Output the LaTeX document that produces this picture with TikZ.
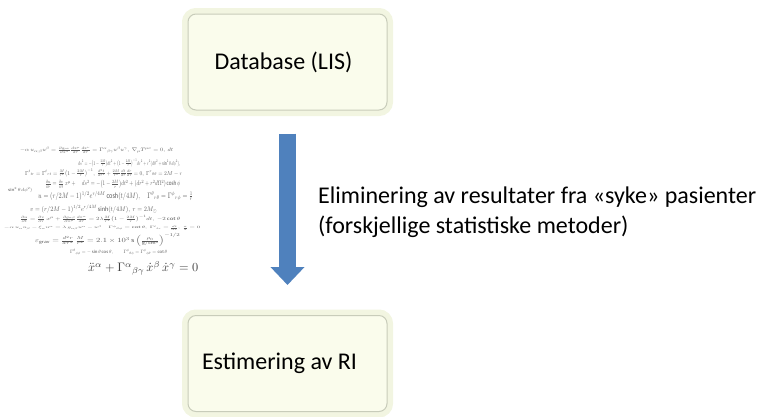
\documentclass[tikz,border=0pt]{standalone}
\usepackage{fontspec}
\setmainfont{Carlito}
\usepackage{amsmath}
\usepackage{graphicx}
\usetikzlibrary{arrows.meta}

\definecolor{boxfill}{RGB}{250,252,236}
\definecolor{boxrim}{RGB}{242,245,225}
\definecolor{boxline}{RGB}{200,204,186}
\definecolor{arrowblue}{RGB}{79,129,189}

\begin{document}
\begin{tikzpicture}[x=1pt,y=-1pt,
	stepbox/.style={rectangle, rounded corners=8pt, minimum width=199pt, minimum height=96pt,
		fill=boxfill, draw=boxline, line width=1pt,
		preaction={draw=boxrim, line width=12pt},
		font=\fontsize{24pt}{29pt}\selectfont, inner sep=0pt},
	flowarrow/.style={draw=arrowblue, line width=17pt, -{Triangle[width=33pt,length=18pt]}},
	eqline/.style={anchor=west, inner sep=0pt, text=black!65},
]
\useasboundingbox (0,0) rectangle (759,416);

% the two steps
\node[stepbox] (db) at (287.5,62) {Database (LIS)\hspace*{8pt}};
\node[stepbox] (ri) at (287.5,363.5) {Estimering av RI\hspace*{16pt}};

% arrow between them
\draw[flowarrow, shorten <=23pt, shorten >=30pt] (db.south) -- (ri.north);

\node[anchor=west, align=left, inner sep=0pt, font=\fontsize{24pt}{30pt}\selectfont] (txt) at (318,212)
	{Eliminering av resultater fra «syke» pasienter\\(forskjellige statistiske metoder)};

% equations (picture at left)
\node[eqline] (eq1) at (20,150)
	{\resizebox{153pt}{5pt}{$-\alpha\,u_{\alpha;\beta}u^{\beta} = \frac{\partial g_{\mu\nu}}{\partial x^{\lambda}}\frac{dx^{\mu}}{d\tau}\frac{dx^{\nu}}{d\tau}
	 = \Gamma^{\alpha}{}_{\beta\gamma}u^{\beta}u^{\gamma},\ \nabla_{\mu}T^{\mu\nu}=0,\ dt$}};
\node[eqline] (eq2) at (78,163)
	{\resizebox{102pt}{6pt}{$ds^{2} = -\bigl(1-\frac{2M}{r}\bigr)dt^{2} + \bigl(1-\frac{2M}{r}\bigr)^{-1}dr^{2} + r^{2}(d\theta^{2}+\sin^{2}\theta\,d\phi^{2}),$}};
\node[eqline] (eq3) at (25,173)
	{\resizebox{157pt}{6pt}{$\Gamma^{t}{}_{tr} = \Gamma^{t}{}_{rt} = \frac{M}{r^{2}}\bigl(1-\frac{2M}{r}\bigr)^{-1},\ \frac{d^{2}t}{d\tau^{2}} + \frac{2M}{r^{2}}\frac{dt}{d\tau}\frac{dr}{d\tau} = 0,\ \Gamma^{r}{}_{\theta\theta} = 2M - r$}};
\node[eqline] (eq4) at (45,184)
	{\resizebox{135pt}{6pt}{$\frac{\partial u}{\partial r} = \frac{\partial v}{\partial t}\,x^{\mu} + \quad ds^{2} = -\bigl(1-\frac{2M}{r}\bigr)dt^{2} + (dr^{2}+r^{2}d\Omega^{2})\cosh\phi$}};
\node[eqline] (eq5) at (8,190)
	{\resizebox{24pt}{4pt}{$\sin^{2}\theta\,d\phi^{2})$}};
\node[eqline] (eq6) at (38,196)
	{\resizebox{155pt}{7pt}{$u = (r/2M-1)^{1/2}e^{r/4M}\cosh(t/4M),\quad \Gamma^{\theta}{}_{r\theta} = \Gamma^{\phi}{}_{r\phi} = \frac{1}{r}$}};
\node[eqline] (eq7) at (30,209)
	{\resizebox{127pt}{6pt}{$v = (r/2M-1)^{1/2}e^{r/4M}\sinh(t/4M),\ r = 2M_{\odot}$}};
\node[eqline] (eq8) at (20,219)
	{\resizebox{160pt}{5pt}{$\frac{\partial u}{\partial t} = \frac{\partial v}{\partial r}\,x^{\mu} + \frac{\partial g_{\alpha\beta}}{\partial x^{\mu}}\frac{dx^{\alpha}}{d\tau} = 2\lambda\frac{M}{r^{2}}\bigl(1-\frac{2M}{r}\bigr)^{-1}dt,\ -2\cot\theta$}};
\node[eqline] (eq9) at (4,228)
	{\resizebox{196pt}{3pt}{$-\alpha\,u_{\alpha}u_{\beta} - \xi_{\alpha}u^{\alpha} = \lambda\,g_{\alpha\beta}u^{\alpha} - u^{\beta}\quad \Gamma^{\phi}{}_{\theta\phi} = \cot\theta,\ \Gamma^{t}{}_{tr} = \frac{dt}{d\tau},\ \frac{\pi}{2}=0$}};
\node[eqline] (eq10) at (35,240)
	{\resizebox{145pt}{9pt}{$\varepsilon_{\rm grav} = \frac{d^{2}r}{d\tau^{2}}\,\frac{M}{r^{2}} = 2.1\times10^{3}\,{\rm s}\,\Bigl(\frac{\rho_{0}}{\rm g/cm^{3}}\Bigr)^{-1/2}$}};
\node[eqline] (eq11) at (70,252)
	{\resizebox{97pt}{4pt}{$\Gamma^{\theta}{}_{\phi\phi} = -\sin\theta\cos\theta,\qquad \Gamma^{\phi}{}_{\theta\phi} = \Gamma^{\phi}{}_{\phi\theta} = \cot\theta$}};
\node[eqline, text=black!75] (eq12) at (88,268)
	{\resizebox{110pt}{!}{$\ddot{x}^{\alpha} + \Gamma^{\alpha}{}_{\beta\gamma}\,\dot{x}^{\beta}\,\dot{x}^{\gamma} = 0$}};

\end{tikzpicture}
\end{document}
